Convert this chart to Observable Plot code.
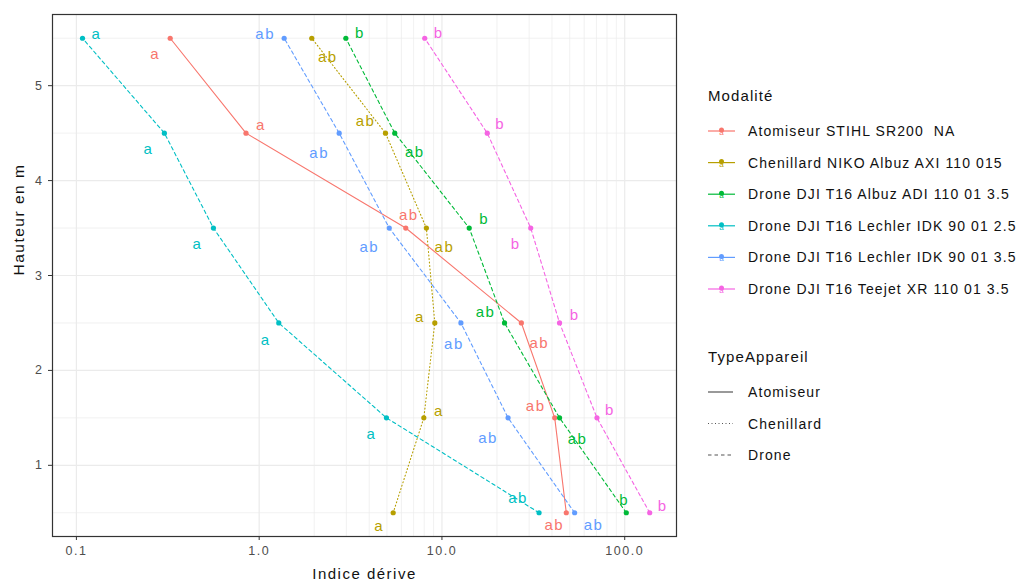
<!DOCTYPE html>
<html><head><meta charset="utf-8">
<script src="https://cdn.jsdelivr.net/npm/d3@7"></script>
<script src="https://cdn.jsdelivr.net/npm/@observablehq/plot@0.6"></script>
<style>
body{margin:0;background:#fff;font-family:"Liberation Sans",Arial,sans-serif;}
#wrap{position:relative;width:1024px;height:585px;overflow:hidden;}
#chart{position:absolute;left:0;top:0;}
#legend{position:absolute;left:690px;top:0;}
#legend text{white-space:pre;}
</style></head><body>
<div id="wrap"><div id="chart"></div><svg id="legend" width="334" height="585"></svg></div>
<script>
// ---- data ----
const hauteurs = [0.5, 1.5, 2.5, 3.5, 4.5, 5.5];
const modalites = [
  "Atomiseur STIHL SR200  NA",
  "Chenillard NIKO Albuz AXI 110 015",
  "Drone DJI T16 Albuz ADI 110 01 3.5",
  "Drone DJI T16 Lechler IDK 90 01 2.5",
  "Drone DJI T16 Lechler IDK 90 01 3.5",
  "Drone DJI T16 Teejet XR 110 01 3.5"
];
const typesAppareil = ["Atomiseur", "Chenillard", "Drone", "Drone", "Drone", "Drone"];
const typesListe = ["Atomiseur", "Chenillard", "Drone"];
const indiceAtomiseur   = [47.9, 41.4, 27.2, 6.34, 0.847, 0.326];
const indiceChenillard  = [5.41, 7.96, 9.14, 8.22, 4.91, 1.94];
const indiceAlbuzADI    = [102, 44.0, 22.0, 14.1, 5.52, 2.98];
const indiceLechler25   = [34.0, 4.97, 1.28, 0.562, 0.303, 0.108];
const indiceLechler35   = [53.2, 23.0, 12.7, 5.15, 2.74, 1.37];
const indiceTeejet      = [137, 70.5, 44.0, 30.6, 17.7, 8.05];
const lettresAtomiseur  = ["ab", "ab", "ab", "ab", "a", "a"];
const lettresChenillard = ["a", "a", "a", "ab", "ab", "ab"];
const lettresAlbuzADI   = ["b", "ab", "ab", "b", "ab", "b"];
const lettresLechler25  = ["ab", "a", "a", "a", "a", "a"];
const lettresLechler35  = ["ab", "ab", "ab", "ab", "ab", "ab"];
const lettresTeejet     = ["b", "b", "b", "b", "b", "b"];
const xTicks = [0.1, 1, 10, 100];
const xMinor = [2, 3, 4, 5, 6, 7, 8, 9, 20, 30, 40, 50, 60, 70, 80, 90];
const yTicks = [1, 2, 3, 4, 5];

// ---- styles ----
const couleurs = ["#F8766D", "#B79F00", "#00BA38", "#00BFC4", "#619CFF", "#F564E3"];
const tirets = {Atomiseur: null, Chenillard: "1,2.5", Drone: "3.5,3"};
// label nudges (like ggrepel placement), pixels, per series per height
const decalages = [
  [[-12,12],[-19,-12],[18,20],[3,-13],[15,-8],[-15,16]],
  [[-14,13],[15,-7],[-15,-6],[18,19],[-20,-12],[16,19]],
  [[-2,-13],[18,21],[-19,-11],[15,-9],[20,19],[14,-5]],
  [[-21,-15],[-15,16],[-13,17],[-16,16],[-16,16],[14,-4]],
  [[19,12],[-20,20],[-7,21],[-20,19],[-20,20],[-19,-4]],
  [[13,-7],[13,-8],[15,-8],[-15,16],[13,-9],[14,-5]]
];

const series = [indiceAtomiseur, indiceChenillard, indiceAlbuzADI, indiceLechler25, indiceLechler35, indiceTeejet];
const lettres = [lettresAtomiseur, lettresChenillard, lettresAlbuzADI, lettresLechler25, lettresLechler35, lettresTeejet];
const rows = [];
series.forEach((vals, i) => vals.forEach((v, j) => rows.push({
  mod: modalites[i], type: typesAppareil[i], color: couleurs[i], h: hauteurs[j], v,
  lettre: lettres[i][j], d: decalages[i][j]
})));
const yMinor = hauteurs;
const font = "'Liberation Sans', Arial, sans-serif";

const marks = [
  Plot.ruleX(xMinor, {stroke: "#ebebeb", strokeWidth: 0.7}),
  Plot.ruleY(yMinor, {stroke: "#ebebeb", strokeWidth: 0.7}),
  Plot.ruleX(xTicks, {stroke: "#ebebeb", strokeWidth: 1.2}),
  Plot.ruleY(yTicks, {stroke: "#ebebeb", strokeWidth: 1.2}),
];
typesListe.forEach(t => {
  marks.push(Plot.line(rows.filter(r => r.type === t), {
    x: "v", y: "h", z: "mod", stroke: "color", strokeWidth: 1.1,
    strokeDasharray: tirets[t] || undefined
  }));
});
marks.push(Plot.dot(rows, {x: "v", y: "h", fill: "color", r: 2.6}));
rows.forEach(r => {
  marks.push(Plot.text([r], {x: "v", y: "h", text: "lettre", fill: "color", dx: r.d[0], dy: r.d[1],
    fontSize: 15, textAnchor: "middle", lineAnchor: "middle"}));
});
marks.push(
  Plot.frame({stroke: "#333", strokeWidth: 1.2}),
  Plot.axisX({ticks: xTicks, tickFormat: d => d.toFixed(1), tickSize: 4, tickPadding: 6,
    stroke: "#333", fill: "#4d4d4d", fontSize: 12.5, label: null}),
  Plot.axisY({ticks: yTicks, tickFormat: d => String(d), tickSize: 4, tickPadding: 5,
    stroke: "#333", fill: "#4d4d4d", fontSize: 12.5, label: null}),
  Plot.text(["Indice dérive"], {frameAnchor: "bottom", dy: 42, fontSize: 15, fill: "#111"}),
  Plot.text(["Hauteur en m"], {frameAnchor: "left", dx: -33, rotate: -90, fontSize: 15.5, fill: "#111"})
);

const chart = Plot.plot({
  width: 690, height: 585,
  marginLeft: 52, marginRight: 14, marginTop: 14, marginBottom: 49,
  x: {type: "log", domain: [0.074, 192]},
  y: {domain: [0.25, 5.75]},
  style: {fontFamily: font, background: "#fff", overflow: "visible", letterSpacing: "1.5px"},
  marks
});
document.getElementById("chart").appendChild(chart);

// ---- legend ----
const lg = d3.select("#legend").style("font-family", font).style("letter-spacing", "1.1px");
lg.append("text").attr("x", 18).attr("y", 101).attr("font-size", 15).attr("fill", "#111").text("Modalité");
modalites.forEach((m, i) => {
  const y = 131 + i * 31.6;
  const g = lg.append("g");
  g.append("line").attr("x1", 18).attr("x2", 45).attr("y1", y).attr("y2", y)
    .attr("stroke", couleurs[i]).attr("stroke-width", 1.2);
  g.append("circle").attr("cx", 31.5).attr("cy", y - 1).attr("r", 2.5).attr("fill", couleurs[i]);
  g.append("text").attr("x", 31.5).attr("y", y + 4).attr("text-anchor", "middle")
    .attr("font-size", 8).attr("letter-spacing", "0").attr("fill", couleurs[i]).text("a");
  g.append("text").attr("x", 58).attr("y", y + 5).attr("font-size", 14).attr("fill", "#111").text(m);
});
lg.append("text").attr("x", 18).attr("y", 362).attr("font-size", 15).attr("fill", "#111").text("TypeAppareil");
typesListe.forEach((t, i) => {
  const y = 392 + i * 31.5;
  lg.append("line").attr("x1", 18).attr("x2", 43).attr("y1", y).attr("y2", y)
    .attr("stroke", "#555").attr("stroke-width", 1.2)
    .attr("stroke-dasharray", tirets[t] || null);
  lg.append("text").attr("x", 58).attr("y", y + 5).attr("font-size", 14).attr("fill", "#111").text(t);
});
</script>
</body></html>
